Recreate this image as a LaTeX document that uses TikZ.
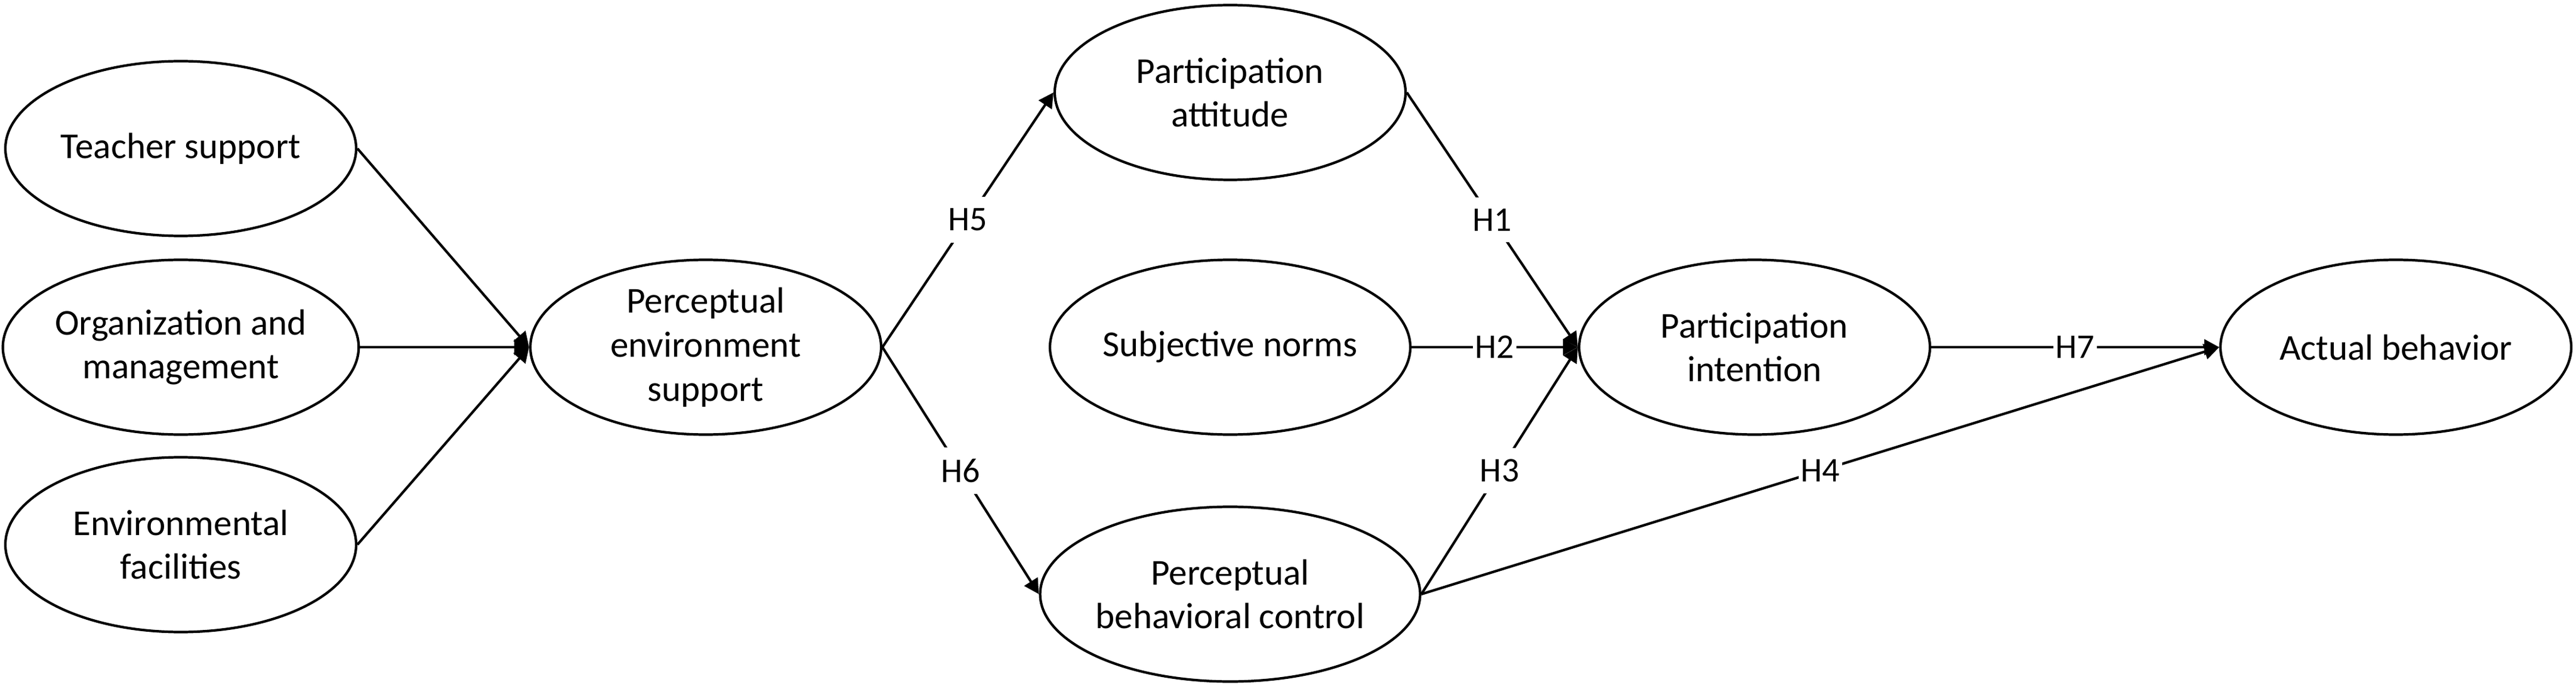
\documentclass[tikz,border=0pt]{standalone}
\usepackage{fontspec}
\setmainfont{Carlito}
\usetikzlibrary{shapes.geometric,arrows.meta}

\begin{document}
\begin{tikzpicture}[
    construct/.style={draw, ellipse, line width=1.2pt, minimum width=5.88cm, minimum height=2.93cm, inner sep=0pt, align=center, font=\fontsize{17.4}{21}\selectfont},
    link/.style={line width=1.2pt, -{Triangle[length=0.25cm,width=0.26cm]}},
    hyp/.style={midway, fill=white, inner xsep=1pt, inner ysep=5.5pt, font=\fontsize{16.5}{19}\selectfont}
]
    \useasboundingbox (0,0) rectangle (43.18,-11.55);

    \node[construct] (teacher) at (3.03,-2.49) {Teacher support};
    \node[construct] (organization) at (3.03,-5.82) {Organization and\\management};
    \node[construct] (facilities) at (3.03,-9.13) {Environmental\\facilities};
    \node[construct] (environment) at (11.83,-5.82) {Perceptual\\environment\\support};

    \node[construct] (attitude) at (20.62,-1.55) {Participation\\attitude};
    \node[construct] (norms) at (20.62,-5.82) {Subjective norms};
    \node[construct] (control) at (20.62,-9.96) {Perceptual\\behavioral control};

    \node[construct] (intention) at (29.41,-5.82) {Participation\\intention};
    \node[construct] (behavior) at (40.16,-5.82) {Actual behavior};

    \draw[link] (teacher.east) -- (environment.west);
    \draw[link] (organization.east) -- (environment.west);
    \draw[link] (facilities.east) -- (environment.west);

    \draw[link] (environment.east) -- node[hyp] {H5} (attitude.west);
    \draw[link] (environment.east) -- node[hyp] {H6} (control.west);

    \draw[link] (attitude.east) -- node[hyp] {H1} (intention.west);
    \draw[link] (norms.east) -- node[hyp] {H2} (intention.west);
    \draw[link] (control.east) -- node[hyp] {H3} (intention.west);

    \draw[link] (control.east) -- node[hyp] {H4} (behavior.west);
    \draw[link] (intention.east) -- node[hyp] {H7} (behavior.west);
\end{tikzpicture}
\end{document}
